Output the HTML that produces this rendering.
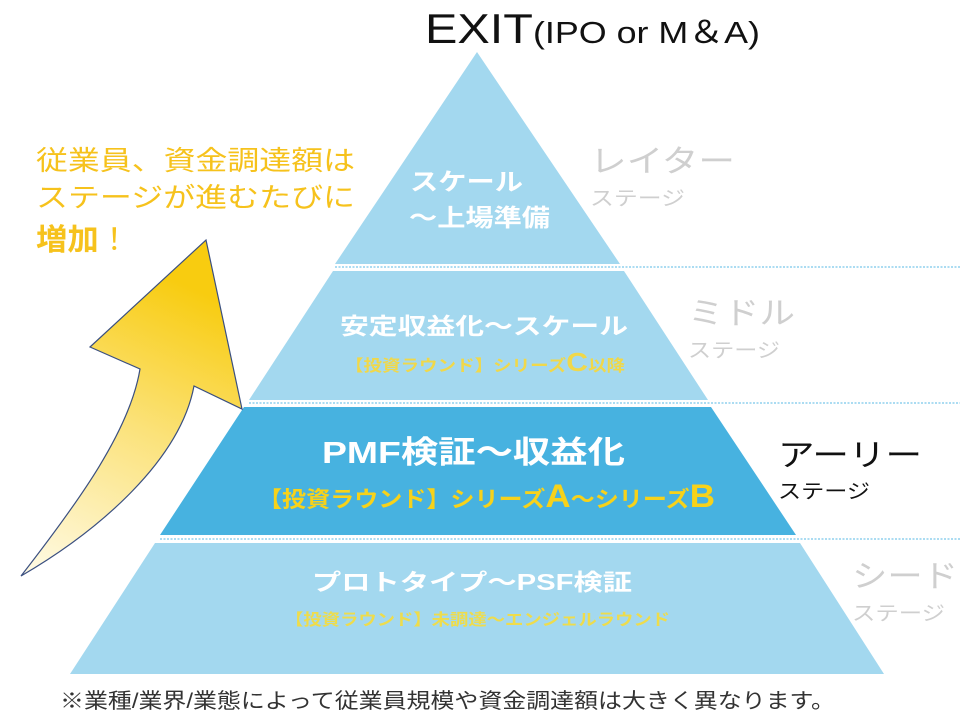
<!DOCTYPE html>
<html><head><meta charset="utf-8"><style>
html,body{margin:0;padding:0;background:#fff;}
svg{display:block;}
text{font-family:"Liberation Sans","Noto Sans CJK JP",sans-serif;}
</style></head><body>
<svg width="960" height="720" viewBox="0 0 960 720" xmlns="http://www.w3.org/2000/svg">
<defs>
<linearGradient id="g" x1="0" y1="1" x2="0.3" y2="0">
<stop offset="0" stop-color="#fffbe8"/>
<stop offset="0.55" stop-color="#fbe27a"/>
<stop offset="1" stop-color="#f8cc10"/>
</linearGradient>
</defs>
<polygon points="477,52 620,264 335,264" fill="#a3d8ef"/>
<polygon points="333,271 624,271 708,400 249,400" fill="#a3d8ef"/>
<polygon points="244,407 711,407 796,535 160,535" fill="#47b2e0"/>
<polygon points="155,543 800,543 884,674 70,674" fill="#a3d8ef"/>
<g stroke="#8fd0ee" stroke-width="1.5" stroke-dasharray="2,1.5">
<line x1="335" y1="267" x2="960" y2="267"/>
<line x1="249" y1="403" x2="960" y2="403"/>
<line x1="160" y1="539" x2="960" y2="539"/>
</g>
<path d="M21,576 C80,500 130,430 140,369 L90,347 L206,240 L242,409 L194,386 C180,460 100,530 21,576 Z" fill="url(#g)" stroke="#3a4f80" stroke-width="1.2"/>
<text x="425" y="43" font-size="42" fill="#111" textLength="335" lengthAdjust="spacingAndGlyphs">EXIT<tspan font-size="31">(IPO or M＆A)</tspan></text>
<g fill="#f6c21c" font-size="27">
<text x="36" y="170" textLength="319" lengthAdjust="spacingAndGlyphs">従業員、資金調達額は</text>
<text x="36" y="207" textLength="319" lengthAdjust="spacingAndGlyphs">ステージが進むたびに</text>
<text x="36" y="250" font-weight="bold" font-size="30" textLength="94" lengthAdjust="spacingAndGlyphs">増加<tspan font-weight="normal">！</tspan></text>
</g>
<g fill="#fff" font-weight="bold">
<text x="410" y="190" font-size="24" textLength="113" lengthAdjust="spacingAndGlyphs">スケール</text>
<text x="409" y="226" font-size="24" textLength="141" lengthAdjust="spacingAndGlyphs">～上場準備</text>
<text x="340" y="334" font-size="23" textLength="288" lengthAdjust="spacingAndGlyphs">安定収益化～スケール</text>
<text x="322" y="463" font-size="31" textLength="303" lengthAdjust="spacingAndGlyphs">PMF検証～収益化</text>
<text x="312" y="590" font-size="23" textLength="320" lengthAdjust="spacingAndGlyphs">プロトタイプ～PSF検証</text>
</g>
<g font-weight="bold">
<text x="345" y="371" font-size="16" fill="#f0d84a" textLength="280" lengthAdjust="spacingAndGlyphs">【投資ラウンド】シリーズ<tspan font-size="26">C</tspan>以降</text>
<text x="258" y="507" font-size="22" fill="#f7d21a" textLength="457" lengthAdjust="spacingAndGlyphs">【投資ラウンド】シリーズ<tspan font-size="32">A</tspan>～シリーズ<tspan font-size="32">B</tspan></text>
<text x="285" y="625" font-size="16" fill="#eedc4c" textLength="385" lengthAdjust="spacingAndGlyphs">【投資ラウンド】未調達～エンジェルラウンド</text>
</g>
<g fill="#cfcfcf">
<text x="590" y="172" font-size="31" textLength="145" lengthAdjust="spacingAndGlyphs">レイター</text>
<text x="590" y="205" font-size="20" textLength="95" lengthAdjust="spacingAndGlyphs">ステージ</text>
<text x="688" y="324" font-size="31" textLength="107" lengthAdjust="spacingAndGlyphs">ミドル</text>
<text x="688" y="357" font-size="20" textLength="92" lengthAdjust="spacingAndGlyphs">ステージ</text>
<text x="852" y="587" font-size="31" textLength="106" lengthAdjust="spacingAndGlyphs">シード</text>
<text x="852" y="620" font-size="20" textLength="93" lengthAdjust="spacingAndGlyphs">ステージ</text>
</g>
<g fill="#111">
<text x="778" y="466" font-size="31" textLength="144" lengthAdjust="spacingAndGlyphs">アーリー</text>
<text x="778" y="498" font-size="20" textLength="92" lengthAdjust="spacingAndGlyphs">ステージ</text>
</g>
<text x="60" y="708" font-size="21" fill="#333" textLength="775" lengthAdjust="spacingAndGlyphs">※業種/業界/業態によって従業員規模や資金調達額は大きく異なります。</text>
</svg>
</body></html>
